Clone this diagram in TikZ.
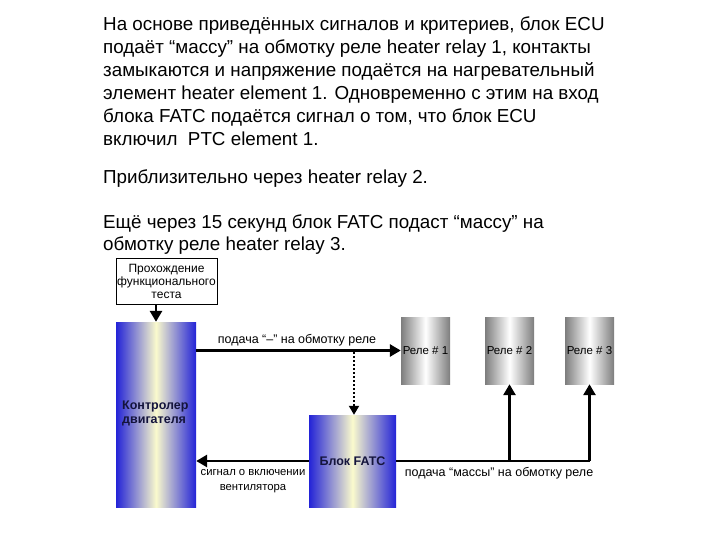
\documentclass[tikz,border=0pt]{standalone}
\usepackage{fontspec}
\setmainfont{Liberation Sans}
\usetikzlibrary{arrows.meta}
\definecolor{dblue}{RGB}{35,35,215}
\definecolor{pyel}{RGB}{250,250,205}
\definecolor{dgray}{RGB}{125,125,125}
\definecolor{navy}{RGB}{20,20,60}
\tikzset{
  bluebox/.style={inner sep=0pt, left color=dblue, right color=dblue, middle color=pyel},
  graybox/.style={inner sep=0pt, minimum width=49pt, minimum height=67pt, left color=dgray, right color=dgray, middle color=white, font=\fontsize{11.5}{12}\selectfont},
  arr/.style={line width=2.8pt, -{Triangle[length=11pt,width=12pt]}},
  small/.style={font=\fontsize{12.5}{15}\selectfont, inner sep=0pt, align=center},
  para/.style={anchor=base west, inner sep=0pt, font=\fontsize{18.8}{22}\selectfont}
}
\begin{document}
\begin{tikzpicture}[x=1pt,y=-1pt]
\useasboundingbox (0,0) rectangle (720,540);
% paragraph text
\node[para] (l1) at (103,31) {На основе приведённых сигналов и критериев, блок ECU};
\node[para] (l2) at (103,54) {подаёт “массу” на обмотку реле heater relay 1, контакты};
\node[para] (l3) at (103,77) {замыкаются и напряжение подаётся на нагревательный};
\node[para] (l4) at (103,100) {элемент heater element 1. Одновременно с этим на вход};
\node[para] (l5) at (103,123) {блока FATC подаётся сигнал о том, что блок ECU};
\node[para] (l6) at (103,146) {включил \ PTC element 1.};
\node[para] (l7) at (103,184) {Приблизительно через heater relay 2.};
\node[para] (l8) at (103,229) {Ещё через 15 секунд блок FATC подаст “массу” на};
\node[para] (l9) at (103,251) {обмотку реле heater relay 3.};
% diagram
\node[draw, line width=1pt, minimum width=101pt, minimum height=46pt, inner sep=0pt, small, font=\fontsize{12}{13}\selectfont] (test) at (166.5,281) {Прохождение\\функционального\\теста};
\node[bluebox, minimum width=80pt, minimum height=185pt] (ecu) at (156,414.5) {};
\node[small, anchor=north west, align=left, text=navy, font=\bfseries\fontsize{12.5}{14}\selectfont] (ecut) at (122,401) {Контролер\\двигателя};
\node[bluebox, minimum width=87pt, minimum height=92pt, text=navy, font=\bfseries\fontsize{12.5}{14}\selectfont] (fatc) at (352.5,461) {Блок FATC};
\node[graybox] (r1) at (425.5,350.5) {Реле \# 1};
\node[graybox] (r2) at (509.5,350.5) {Реле \# 2};
\node[graybox] (r3) at (589.5,350.5) {Реле \# 3};
% connectors
\draw[arr] (test.south -| ecu.north) -- (ecu.north);
\draw[arr] (ecu.east |- r1.west) -- (r1.west);
\coordinate (dtop) at (354,352);
\draw[line width=2pt, dotted, -{Triangle[length=9pt,width=10pt]}] (dtop) -- (dtop |- fatc.north);
\draw[arr] (fatc.west) -- (fatc.west -| ecu.east);
\draw[line width=2.8pt] (fatc.east) -- (fatc.east -| r3.south);
\draw[arr] (fatc.east -| r2.south) -- (r2.south);
\draw[arr] (fatc.east -| r3.south) -- (r3.south);
% labels
\node[small] (lab1) at (297,340) {подача “–” на обмотку реле};
\node[small, font=\fontsize{11.3}{15}\selectfont] (lab2) at (253,481) {сигнал о включении\\вентилятора};
\node[small] (lab3) at (499,473) {подача “массы” на обмотку реле};
\end{tikzpicture}
\end{document}
